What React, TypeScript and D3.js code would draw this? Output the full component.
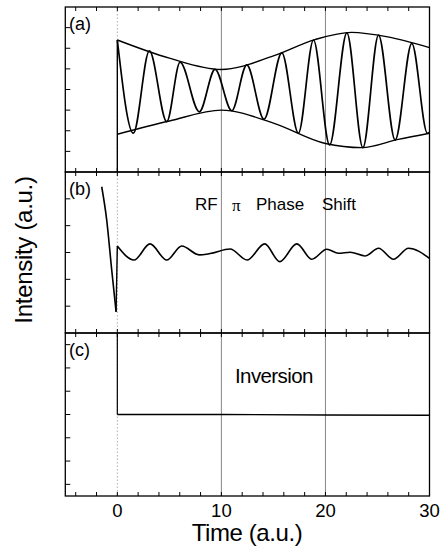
import React from 'react';
import * as d3 from 'd3';

const W = 443;
const H = 547;

// x axis
const timeLabels = [0, 10, 20, 30];
const gridTimes = [0, 10, 20];
const minorTimes = d3.range(-4, 30, 2);

// panel (a): extrema of the beating signal and its envelopes
const aTime = [0, 1.54, 3.08, 4.75, 6.03, 7.88, 9.39, 11.0, 12.44, 14.1, 15.81, 17.4, 18.85, 20.4, 22.06, 23.6, 25.1, 26.7, 28.3, 29.8, 30];
const aValue = [6.4, 1.88, 5.88, 2.44, 5.32, 2.92, 4.98, 2.97, 5.19, 2.56, 5.78, 1.88, 6.4, 1.31, 6.75, 1.18, 6.64, 1.55, 6.24, 1.88, 1.92];
const upperTime = [0, 5, 10, 15, 19, 22.5, 26, 30];
const upperValue = [6.4, 5.52, 4.97, 5.63, 6.42, 6.77, 6.55, 6.03];
const lowerTime = [0, 5, 10, 15, 20, 23.5, 27, 30];
const lowerValue = [1.83, 2.47, 3.0, 2.37, 1.38, 1.18, 1.58, 1.88];

// panel (b): RF pi phase shift
const bDropTime = [-1.5, -1.02, -0.54, -0.12];
const bDropValue = [5.45, 4.21, 2.35, 0.79];
const bTime = [0, 1.61, 3.14, 4.75, 6.19, 7.88, 8.91, 10.84, 12.47, 14.16, 15.61, 17.25, 18.69, 20.13, 21.25, 22.38, 23.82, 25.1, 26.54, 27.98, 30];
const bValue = [3.24, 2.72, 3.32, 2.72, 3.24, 2.91, 2.96, 3.13, 2.72, 3.32, 2.66, 3.32, 2.75, 3.12, 2.97, 3.01, 2.87, 3.16, 2.75, 3.16, 2.78];

// panel (c): inversion
const cTime = [0, 10, 20, 30];
const cValue = [3.5, 3.5, 3.48, 3.47];

const aTicks = [1, 2, 3, 4, 5, 6, 7];
const bTicks = [1, 2, 3, 4, 5];
const cTicks = [0.5, 1.5, 2.5, 3.5, 4.5, 5.5, 6.5];

const FONT = 'Liberation Sans, Arial, Helvetica, sans-serif';

const x = d3.scaleLinear().domain([-5, 30]).range([65.3, 429.5]);

const panels = [
  { label: '(a)', y: d3.scaleLinear().domain([0, 8]).range([172, 7]), ticks: aTicks },
  { label: '(b)', y: d3.scaleLinear().domain([0, 6]).range([333, 172]), ticks: bTicks },
  { label: '(c)', y: d3.scaleLinear().domain([0, 7]).range([496, 333]), ticks: cTicks },
];

const zip = (xs: number[], ys: number[]) => xs.map((t, i) => [t, ys[i]] as [number, number]);

export default function App() {
  const [pa, pb, pc] = panels;
  const mk = (y: d3.ScaleLinear<number, number>, curve: d3.CurveFactory = d3.curveMonotoneX) =>
    d3.line<[number, number]>().x((d) => x(d[0])).y((d) => y(d[1])).curve(curve);

  const lineA = mk(pa.y);
  const lineB = mk(pb.y);
  const lineBLin = mk(pb.y, d3.curveLinear);
  const lineC = mk(pc.y, d3.curveLinear);

  const aPts = zip(aTime, aValue);
  const bDrop = zip(bDropTime, bDropValue);
  const bPts = zip(bTime, bValue);
  const cPts = zip(cTime, cValue);

  const left = x(-5);
  const right = x(30);
  const top = pa.y.range()[1];
  const bottom = pc.y.range()[0];

  return (
    <div style={{ position: 'absolute', left: 0, top: 0 }}>
      <svg width={W} height={H} viewBox={`0 0 ${W} ${H}`} style={{ display: 'block', background: '#fff' }}>
        {/* vertical grid lines */}
        {gridTimes.map((t) => (
          <line
            key={t}
            x1={x(t)}
            x2={x(t)}
            y1={top}
            y2={bottom}
            stroke={t === 0 ? '#999' : '#666'}
            strokeWidth={0.8}
            strokeDasharray={t === 0 ? '1.5,2' : undefined}
          />
        ))}

        {/* panel frames, ticks, labels */}
        {panels.map((p) => {
          const [y0, y1] = p.y.range();
          return (
            <g key={p.label}>
              <rect x={left} y={y1} width={right - left} height={y0 - y1} fill="none" stroke="#000" strokeWidth={1.3} />
              {p.ticks.map((v) => (
                <line key={v} x1={left} x2={left + 5} y1={p.y(v)} y2={p.y(v)} stroke="#000" strokeWidth={1} />
              ))}
              {minorTimes.map((t) => (
                <g key={t}>
                  <line x1={x(t)} x2={x(t)} y1={y1} y2={y1 + 4} stroke="#000" strokeWidth={1} />
                  <line x1={x(t)} x2={x(t)} y1={y0} y2={y0 - 4} stroke="#000" strokeWidth={1} />
                </g>
              ))}
              <text x={69} y={y1 + 23} fontFamily={FONT} fontSize={18} fill="#000">
                {p.label}
              </text>
            </g>
          );
        })}

        {/* (a) */}
        <line x1={x(0)} x2={x(0)} y1={pa.y(0)} y2={pa.y(aValue[0])} stroke="#000" strokeWidth={1.4} />
        <path d={lineA(aPts) ?? ''} fill="none" stroke="#000" strokeWidth={1.7} />
        <path d={lineA(zip(upperTime, upperValue)) ?? ''} fill="none" stroke="#000" strokeWidth={1.4} />
        <path d={lineA(zip(lowerTime, lowerValue)) ?? ''} fill="none" stroke="#000" strokeWidth={1.4} />

        {/* (b) */}
        <path d={lineB(bDrop) ?? ''} fill="none" stroke="#000" strokeWidth={1.6} />
        <path d={lineBLin([bDrop[bDrop.length - 1], bPts[0]]) ?? ''} fill="none" stroke="#000" strokeWidth={1.4} />
        <path d={lineB(bPts) ?? ''} fill="none" stroke="#000" strokeWidth={1.6} />
        <text y={210} fontFamily={FONT} fontSize={17} fill="#000">
          <tspan x={195}>RF</tspan>
        </text>
        <text x={232} y={211} fontFamily="Liberation Serif, Times New Roman, serif" fontSize={17} fill="#000">
          π
        </text>
        <text y={210} fontFamily={FONT} fontSize={17} fill="#000">
          <tspan x={256}>Phase</tspan>
          <tspan x={322}>Shift</tspan>
        </text>

        {/* (c) */}
        <line x1={x(0)} x2={x(0)} y1={pc.y(7)} y2={pc.y(cValue[0])} stroke="#000" strokeWidth={1.2} />
        <path d={lineC(cPts) ?? ''} fill="none" stroke="#000" strokeWidth={1.4} />
        <text x={235} y={383} fontFamily={FONT} fontSize={20.5} letterSpacing={-0.6} fill="#000">
          Inversion
        </text>

        {/* x axis labels */}
        {timeLabels.map((t) => (
          <text key={t} x={x(t)} y={517} textAnchor="middle" fontFamily={FONT} fontSize={18.5} fill="#000">
            {t}
          </text>
        ))}
        <text x={247} y={541} textAnchor="middle" fontFamily={FONT} fontSize={24} letterSpacing={-0.4} fill="#000">
          Time (a.u.)
        </text>
        <text
          transform="translate(32,250) rotate(-90)"
          textAnchor="middle"
          fontFamily={FONT}
          fontSize={24}
          letterSpacing={-0.3}
          fill="#000"
        >
          Intensity (a.u.)
        </text>
      </svg>
    </div>
  );
}
